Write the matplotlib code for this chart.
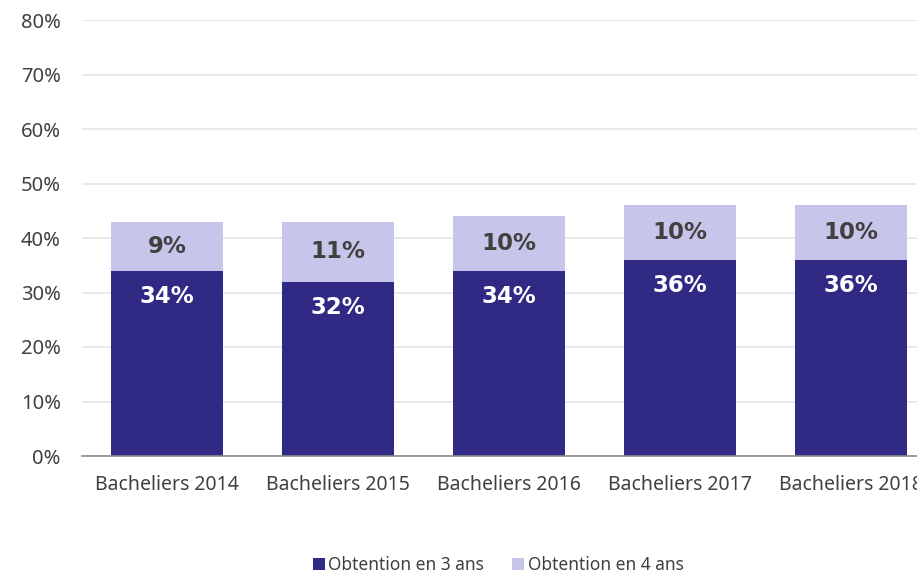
import matplotlib
matplotlib.use("Agg")
import matplotlib.pyplot as plt
from matplotlib.patches import Patch

categories = ["Bacheliers 2014", "Bacheliers 2015", "Bacheliers 2016",
              "Bacheliers 2017", "Bacheliers 2018"]
obtention_3_ans = [34, 32, 34, 36, 36]
obtention_4_ans = [9, 11, 10, 10, 10]
series_names = ["Obtention en 3 ans", "Obtention en 4 ans"]
y_ticks = [0, 10, 20, 30, 40, 50, 60, 70, 80]

DARK = "#312A84"
LIGHT = "#C8C5EB"
TEXT = "#404040"
TICK_FONT = "Noto Sans"
LABEL_FONT = "DejaVu Sans"

W, H = 917, 573
fig = plt.figure(figsize=(W / 100, H / 100), dpi=100)
ax = fig.add_axes([81.5 / W, (H - 456) / H, 855 / W, 436 / H])

x = list(range(len(categories)))
bw = 0.655
b1 = ax.bar(x, obtention_3_ans, width=bw, color=DARK, zorder=3)
b2 = ax.bar(x, obtention_4_ans, width=bw, bottom=obtention_3_ans, color=LIGHT, zorder=3)

for i in x:
    v3 = obtention_3_ans[i]
    v4 = obtention_4_ans[i]
    ax.text(i, v3 - 4.7, f"{v3}%", ha="center", va="center", color="white",
            fontsize=16.5, fontweight="bold", family=LABEL_FONT, zorder=4)
    ax.text(i, v3 + v4 / 2, f"{v4}%", ha="center", va="center", color=TEXT,
            fontsize=16.5, fontweight="bold", family=LABEL_FONT, zorder=4)

ax.set_xlim(-0.5, len(categories) - 0.5)
ax.set_ylim(0, 80)
ax.set_yticks(y_ticks)
ax.set_yticklabels([f"{t}%" for t in y_ticks], family=TICK_FONT, fontsize=14.5, color=TEXT)
ax.set_xticks(x)
ax.set_xticklabels(categories, family=TICK_FONT, fontsize=14, color=TEXT)
ax.tick_params(axis="both", length=0)
ax.tick_params(axis="y", pad=15)
ax.tick_params(axis="x", pad=14)

ax.grid(axis="y", color="#E8E8E8", linewidth=1.3, zorder=0)
for s in ["top", "right", "left"]:
    ax.spines[s].set_visible(False)
ax.spines["bottom"].set_color("#8C8C8C")
ax.spines["bottom"].set_linewidth(1.2)
ax.spines["bottom"].set_zorder(5)

handles = [Patch(facecolor=DARK, label=series_names[0]),
           Patch(facecolor=LIGHT, label=series_names[1])]
fig.legend(handles=handles, loc="center", bbox_to_anchor=(498 / W, 1 - 565 / H),
           ncol=2, frameon=False, handlelength=0.7, handleheight=0.7,
           handletextpad=0.2, columnspacing=1.6,
           prop={"family": TICK_FONT, "size": 12.5}, labelcolor=TEXT)

fig.savefig("out.png", dpi=100)
